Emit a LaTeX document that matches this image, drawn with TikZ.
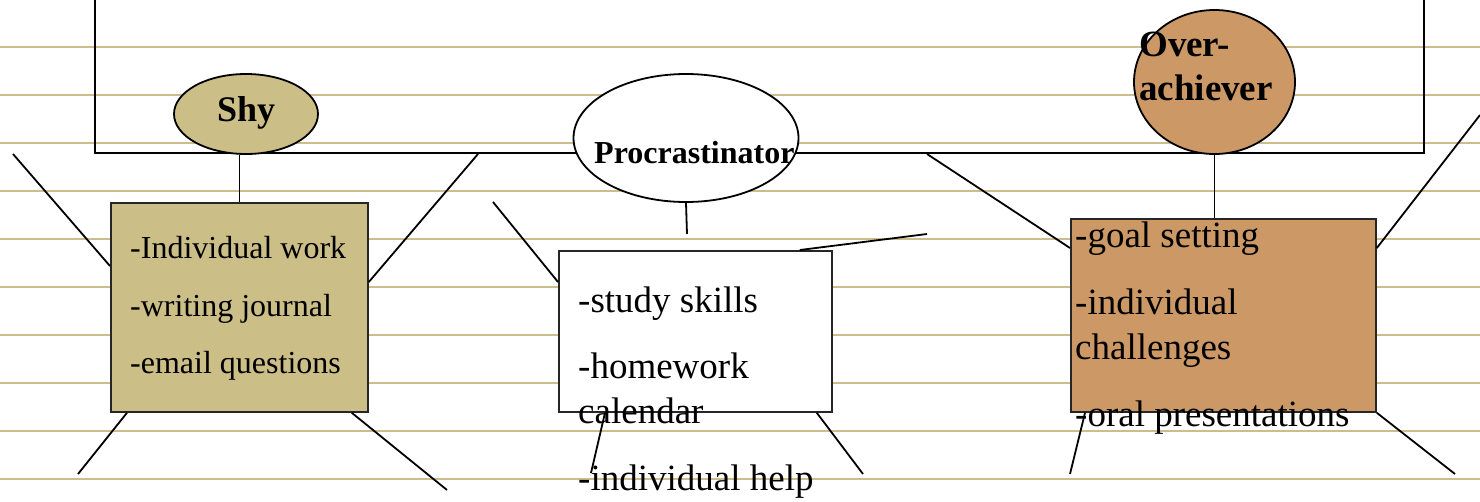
\documentclass[tikz,border=0pt]{standalone}
\usepackage{fontspec}
\setmainfont{Liberation Serif}
\usetikzlibrary{shapes.geometric}
\definecolor{rule}{RGB}{204,189,140}
\definecolor{shyfill}{RGB}{203,190,135}
\definecolor{overfill}{RGB}{204,153,102}
\tikzset{
  ruled/.style={draw=rule, line width=2.4pt},
  conn/.style={draw=black, line width=1.8pt},
  oval/.style={shape=ellipse, draw=black, line width=1.8pt, inner sep=0pt},
  card/.style={shape=rectangle, draw=black!85, line width=1.8pt, inner sep=0pt, anchor=north west},
  bigtxt/.style={anchor=base west, inner sep=0pt, font=\fontsize{37}{44}\selectfont},
  smalltxt/.style={anchor=base west, inner sep=0pt, font=\fontsize{32}{38}\selectfont},
  head/.style={anchor=base west, inner sep=0pt}
}
\begin{document}
\begin{tikzpicture}[x=1pt,y=-1pt]
\useasboundingbox (0,0) rectangle (1480,501);
\clip (0,0) rectangle (1480,501);
% ruled paper lines
\foreach \yy in {47,95,143,191,239,287,335,383,431,479}
  \draw[ruled] (0,\yy) -- (1480,\yy);
% frame
\node[draw=black, line width=1.8pt, minimum width=1329pt, minimum height=220pt, anchor=south west, inner sep=0pt] (frame) at (94,154) {};
% free ends
\coordinate (f1) at (13,154);
\coordinate (f2) at (478,154);
\coordinate (f3) at (78,474);
\coordinate (f4) at (447,490);
\coordinate (p1) at (493,202);
\coordinate (p2) at (927,234);
\coordinate (p3) at (591,473);
\coordinate (p4) at (863,474);
\coordinate (pv) at (687,234);
\coordinate (o1) at (927,154);
\coordinate (o2) at (1480,115);
\coordinate (o3) at (1070,474);
\coordinate (o4) at (1455,474);
% boxes
\node[card, fill=shyfill, minimum width=257pt, minimum height=209pt] (shybox) at (110,202) {};
\node[card, fill=white, minimum width=273pt, minimum height=161pt] (probox) at (558,250) {};
\node[card, fill=overfill, minimum width=305pt, minimum height=193pt] (overbox) at (1070,218) {};
% ovals
\node[oval, fill=shyfill, minimum width=144pt, minimum height=80pt] (shy) at (246,114) {};
\node[oval, fill=white, minimum width=225pt, minimum height=128pt] (pro) at (686,138) {};
\node[oval, fill=overfill, minimum width=161pt, minimum height=144pt] (over) at (1214.5,82) {};
% connectors
\draw[conn] (f1) -- ([yshift=-64pt]shybox.north west);
\draw[conn] (f2) -- ([yshift=-80pt]shybox.north east);
\draw[conn] ([xshift=17pt]shybox.south west) -- (f3);
\draw[conn] ([xshift=-17pt]shybox.south east) -- (f4);
\draw[conn] (shybox.north) -- (shybox.north |- shy.south);
\draw[conn] (p1) -- ([yshift=-32pt]probox.north west);
\draw[conn] (p2) -- ([xshift=-33pt]probox.north east);
\draw[conn] ([xshift=47pt]probox.south west) -- (p3);
\draw[conn] ([xshift=-16pt]probox.south east) -- (p4);
\draw[conn] (pro.south) -- (pv);
\draw[conn] (o1) -- ([yshift=-30pt]overbox.north west);
\draw[conn] ([yshift=-30pt]overbox.north east) -- (o2);
\draw[conn] ([xshift=15pt]overbox.south west) -- (o3);
\draw[conn] (overbox.south east) -- (o4);
\draw[conn] (over.south) -- (over.south |- overbox.north);
% oval labels
\node[head, font=\fontsize{36}{40}\selectfont\bfseries] (shyt) at (217,121) {Shy};
\node[head, font=\fontsize{32}{38}\selectfont\bfseries] (prot) at (594,163) {Procrastinator};
\node[head, font=\fontsize{37}{44}\selectfont\bfseries] (overt1) at (1139,56) {Over-};
\node[head, font=\fontsize{37}{44}\selectfont\bfseries] (overt2) at (1139,100) {achiever};
% shy box text
\node[smalltxt] (s1) at (130,258) {-Individual work};
\node[smalltxt] (s2) at (130,316) {-writing journal};
\node[smalltxt] (s3) at (130,373) {-email questions};
% procrastinator box text
\node[bigtxt] (q1) at (578,312) {-study skills};
\node[bigtxt] (q2) at (578,378) {-homework};
\node[bigtxt] (q3) at (578,423) {calendar};
\node[bigtxt] (q4) at (578,490) {-individual help};
% over-achiever box text
\node[bigtxt] (r1) at (1075,247) {-goal setting};
\node[bigtxt] (r2) at (1075,314) {-individual};
\node[bigtxt] (r3) at (1075,359) {challenges};
\node[bigtxt] (r4) at (1075,426) {-oral presentations};
\end{tikzpicture}
\end{document}
